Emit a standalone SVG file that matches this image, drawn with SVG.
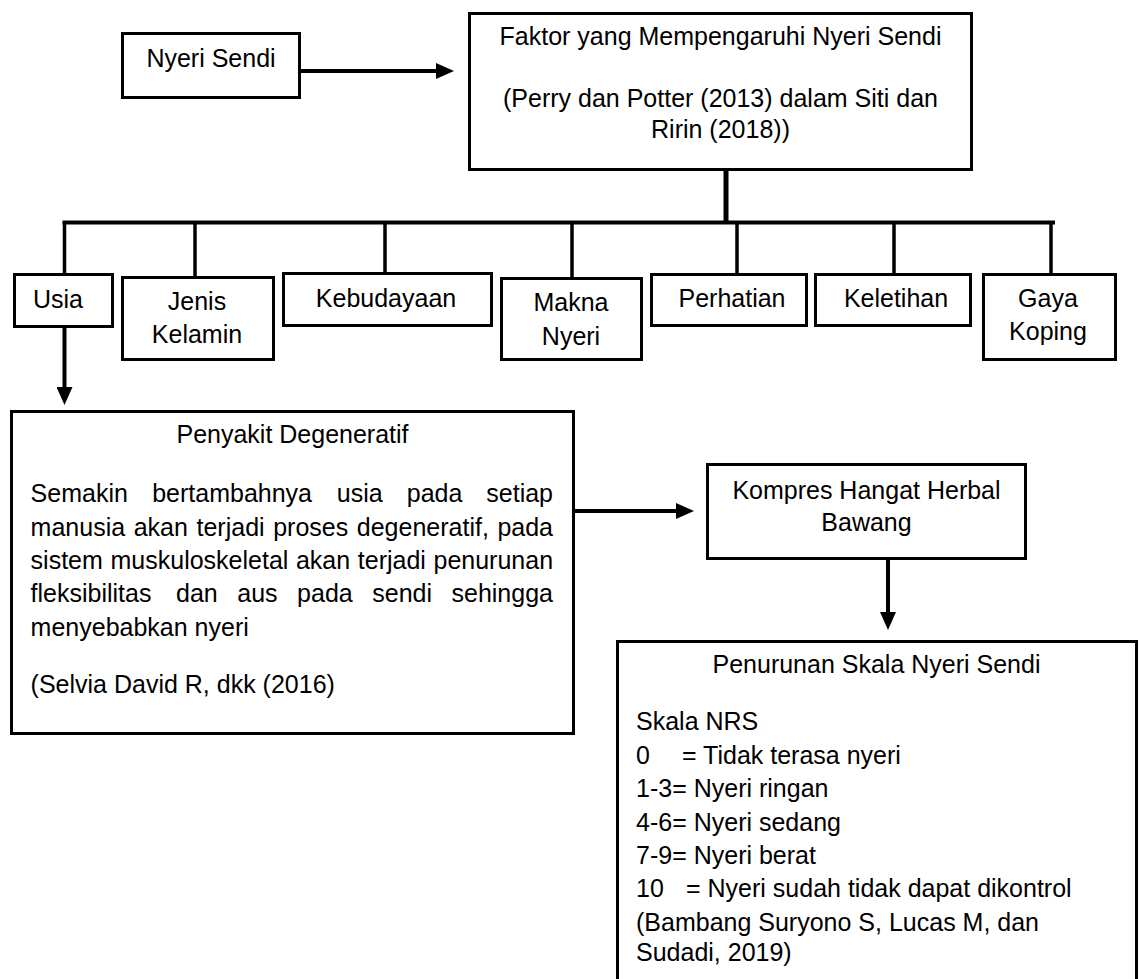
<svg xmlns="http://www.w3.org/2000/svg" width="1139" height="979" viewBox="0 0 1139 979">
<style>
.box{fill:#fff;stroke:#000;stroke-width:3}
.t{font-family:"Liberation Sans",Arial,sans-serif;font-size:25px;fill:#000}
.c{text-anchor:middle}
.e{text-anchor:end}
.ln{stroke:#000;stroke-width:3.5;fill:none}
.ar{stroke:#000;stroke-width:4;fill:none;marker-end:url(#ah)}
</style>
<defs>
<marker id="ah" viewBox="0 0 18 16" refX="8" refY="8" markerWidth="18" markerHeight="16" markerUnits="userSpaceOnUse" orient="auto">
<path d="M0,0 L18,8 L0,16 z" fill="#000"/>
</marker>
</defs>
<rect width="1139" height="979" fill="#fff"/>
<g id="connectors">
<line class="ar" x1="301" y1="71" x2="444" y2="71"/>
<line class="ln" x1="726" y1="171" x2="726" y2="224" style="stroke-width:5"/>
<line class="ln" x1="62.5" y1="222.5" x2="1055" y2="222.5" style="stroke-width:4"/>
<line class="ln" x1="64.5" y1="222" x2="64.5" y2="274"/>
<line class="ln" x1="195" y1="222" x2="195" y2="277"/>
<line class="ln" x1="385" y1="222" x2="385" y2="273"/>
<line class="ln" x1="572" y1="222" x2="572" y2="278"/>
<line class="ln" x1="737" y1="222" x2="737" y2="274"/>
<line class="ln" x1="894" y1="222" x2="894" y2="274"/>
<line class="ln" x1="1051" y1="222" x2="1051" y2="274"/>
<line class="ar" x1="64.5" y1="328" x2="64.5" y2="395"/>
<line class="ar" x1="575" y1="511" x2="684" y2="511"/>
<line class="ar" x1="888" y1="560" x2="888" y2="620"/>
</g>
<g id="nyeri-sendi">
<rect class="box" x="122.5" y="33.5" width="177" height="64"/>
<text class="t c" x="211" y="67">Nyeri Sendi</text>
</g>
<g id="faktor">
<rect class="box" x="469.5" y="13.5" width="502" height="156"/>
<text class="t c" x="720.5" y="45">Faktor yang Mempengaruhi Nyeri Sendi</text>
<text class="t c" x="720.5" y="107">(Perry dan Potter (2013) dalam Siti dan</text>
<text class="t c" x="720.5" y="138">Ririn (2018))</text>
</g>
<g id="usia">
<rect class="box" x="14.5" y="274.5" width="98" height="52"/>
<text class="t" x="33" y="308">Usia</text>
</g>
<g id="jenis-kelamin">
<rect class="box" x="122.5" y="277.5" width="151" height="82"/>
<text class="t c" x="197" y="310">Jenis</text>
<text class="t c" x="197" y="343">Kelamin</text>
</g>
<g id="kebudayaan">
<rect class="box" x="283.5" y="273.5" width="208" height="52"/>
<text class="t c" x="386" y="307">Kebudayaan</text>
</g>
<g id="makna-nyeri">
<rect class="box" x="501.5" y="278.5" width="140" height="81"/>
<text class="t c" x="571" y="311">Makna</text>
<text class="t c" x="571" y="345">Nyeri</text>
</g>
<g id="perhatian">
<rect class="box" x="651.5" y="274.5" width="155" height="51"/>
<text class="t c" x="732" y="307">Perhatian</text>
</g>
<g id="keletihan">
<rect class="box" x="815.5" y="274.5" width="155" height="51"/>
<text class="t c" x="896" y="307">Keletihan</text>
</g>
<g id="gaya-koping">
<rect class="box" x="983.5" y="274.5" width="132" height="85"/>
<text class="t c" x="1048" y="307">Gaya</text>
<text class="t c" x="1048" y="340">Koping</text>
</g>
<g id="penyakit-degeneratif">
<rect class="box" x="11.5" y="411.5" width="562" height="322"/>
<text class="t c" x="292.5" y="443">Penyakit Degeneratif</text>
<text class="t" y="502"><tspan x="30.6">Semakin</tspan><tspan x="152.2">bertambahnya</tspan><tspan x="336.8">usia</tspan><tspan x="406.8">pada</tspan><tspan x="486.3">setiap</tspan></text>
<text class="t" y="535.5"><tspan x="30.6">manusia</tspan><tspan x="133.7">akan</tspan><tspan x="196.5">terjadi</tspan><tspan x="273.2">proses</tspan><tspan x="356.8">degeneratif,</tspan><tspan x="497.4">pada</tspan></text>
<text class="t" y="569"><tspan x="30.6">sistem</tspan><tspan x="110.5">muskuloskeletal</tspan><tspan x="295.9">akan</tspan><tspan x="357.8">terjadi</tspan><tspan x="433.5">penurunan</tspan></text>
<text class="t" y="602"><tspan x="30.6">fleksibilitas</tspan><tspan x="176">dan</tspan><tspan x="237.3">aus</tspan><tspan x="297.1">pada</tspan><tspan x="372.3">sendi</tspan><tspan x="451.5">sehingga</tspan></text>
<text class="t" x="30.6" y="635.5">menyebabkan nyeri</text>
<text class="t" x="30.6" y="693">(Selvia David R, dkk (2016)</text>
</g>
<g id="kompres">
<rect class="box" x="707.5" y="464.5" width="318" height="94"/>
<text class="t c" x="866.5" y="499">Kompres Hangat Herbal</text>
<text class="t c" x="866.5" y="531">Bawang</text>
</g>
<g id="penurunan-skala">
<rect class="box" x="617.5" y="641.5" width="519" height="400"/>
<text class="t c" x="876.5" y="673">Penurunan Skala Nyeri Sendi</text>
<text class="t" x="636" y="730">Skala NRS</text>
<text class="t" y="764"><tspan x="636">0</tspan><tspan x="682">= Tidak terasa nyeri</tspan></text>
<text class="t" x="636" y="797">1-3= Nyeri ringan</text>
<text class="t" x="636" y="830.5">4-6= Nyeri sedang</text>
<text class="t" x="636" y="863.5">7-9= Nyeri berat</text>
<text class="t" y="896.5"><tspan x="636">10</tspan><tspan x="686">= Nyeri sudah tidak dapat dikontrol</tspan></text>
<text class="t" x="636" y="930.5">(Bambang Suryono S, Lucas M, dan</text>
<text class="t" x="636" y="961">Sudadi, 2019)</text>
</g>
</svg>
